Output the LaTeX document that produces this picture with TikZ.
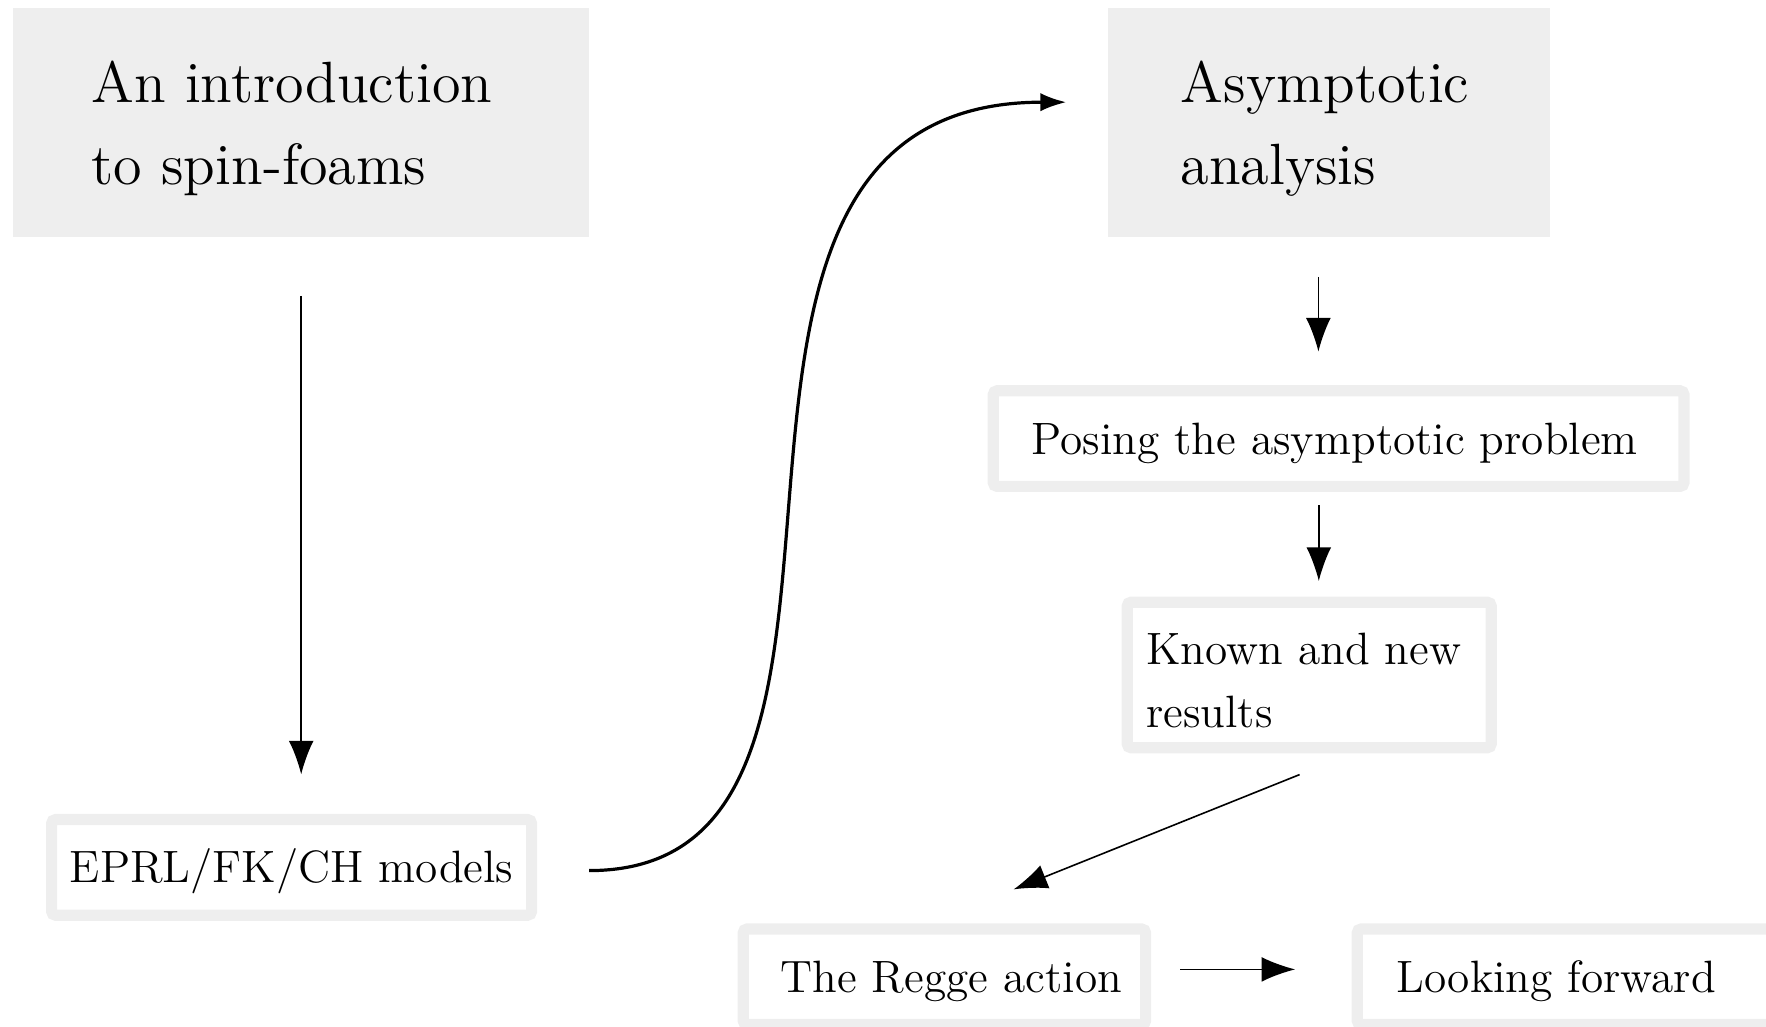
\documentclass[tikz,border=0pt]{standalone}
\usepackage{tikz}
\usetikzlibrary{positioning,arrows.meta}
\definecolor{boxclr}{HTML}{EEEEEE}
\newcommand{\chapfont}{\fontsize{14.55}{20.55}\selectfont}
\newcommand{\secfont}{\fontsize{11.33}{15.8}\selectfont}
\tikzset{ %
  ,>={Latex[length=8.4pt,width=6.2pt]}
  ,chap/.style={fill=boxclr, inner xsep=19.5pt, minimum height=57.2pt, text height=13.5pt, align=left, font=\chapfont}
  ,frame/.style={draw=boxclr, line width=2.8pt, rounded corners=1pt, minimum height=23.9pt, font=\secfont}
  ,sec/.style={frame, text height=9.8pt, text depth=2pt}
  ,link/.style={->, line width=0.4pt}
  ,curl/.style={-{Latex[length=6.5pt,width=4.6pt]}, line width=0.8pt}
}
\begin{document}
\begin{tikzpicture}
  \useasboundingbox (0,0) rectangle (441.5pt,256.75pt);
  \draw
  node[chap, text width=104.9pt] (intro) at (75.3pt,226.2pt) {An introduction\\to spin-foams}
  node[chap, text width=74pt, inner xsep=18.2pt] (asym) at (332.2pt,226.2pt) {Asymptotic\\analysis}
  node[sec, minimum width=120pt] (eprl) at (72.9pt,39.9pt) {EPRL/FK/CH models}
  node[sec, text width=153.5pt, inner xsep=9.6pt, align=left] (posing) at (334.65pt,147.1pt) {Posing the asymptotic problem}
  node[frame, minimum height=36.4pt, text width=81.4pt, inner xsep=4.8pt, text height=10.7pt, align=left] (known) at (327.3pt,88pt) {Known and new\\results}
  node[sec, text width=88.8pt, inner xsep=5.9pt, align=right] (regge) at (236.1pt,12.55pt) {The Regge action}
  node[sec, text width=100pt, inner xsep=9.9pt, align=left, right=50.1pt of regge] (forward) {Looking forward};
  \draw[link, shorten <=14.6pt, shorten >=9.9pt] (intro.south) -- (intro.south |- eprl.north);
  \draw[curl] ([xshift=13pt,yshift=-0.8pt]eprl.east) .. controls +(89pt,0) and +(-112pt,0) .. ([xshift=-10.2pt,yshift=5pt]asym.west);
  \draw[link, shorten <=9.9pt, shorten >=8.4pt] ([xshift=-2.6pt]asym.south) -- ([xshift=-2.6pt]asym.south |- posing.north);
  \draw[link, shorten <=3.3pt, shorten >=3.9pt] ([xshift=-4.95pt]posing.south) -- ([xshift=-4.95pt]posing.south |- known.north);
  \draw[link] ([xshift=-2.4pt,yshift=-5.3pt]known.south) -- ([xshift=17.3pt,yshift=8.5pt]regge.north);
  \draw[link, shorten <=7.3pt, shorten >=14.1pt] ([yshift=1.85pt]regge.east) -- ([yshift=1.85pt]forward.west);
\end{tikzpicture}
\end{document}
